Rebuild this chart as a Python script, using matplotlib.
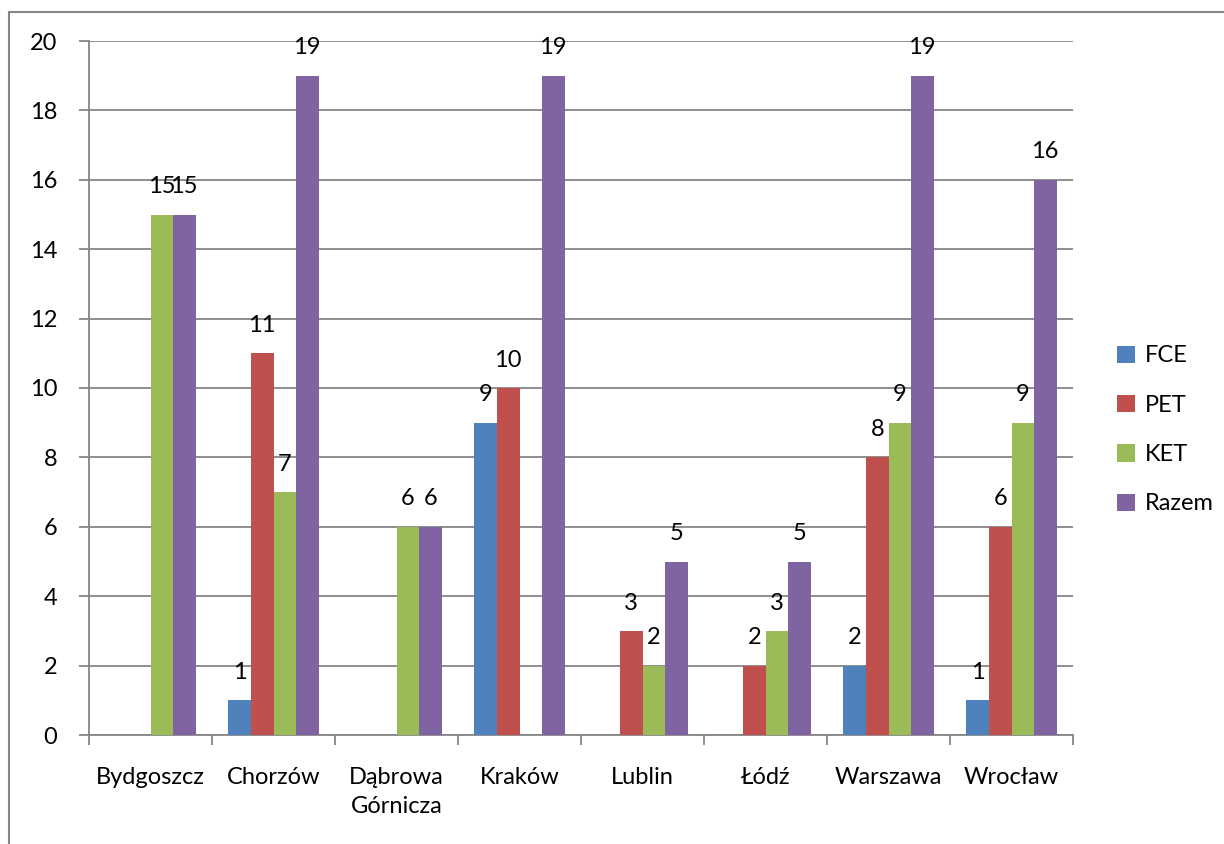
import matplotlib.pyplot as plt
from matplotlib.patches import Rectangle
import numpy as np

# data
cities = ['Bydgoszcz', 'Chorzów', 'Dąbrowa\nGórnicza', 'Kraków', 'Lublin', 'Łódź', 'Warszawa', 'Wrocław']
series = ['FCE', 'PET', 'KET', 'Razem']
FCE = [None, 1, None, 9, None, None, 2, 1]
PET = [None, 11, None, 10, 3, 2, 8, 6]
KET = [15, 7, 6, None, 2, 3, 9, 9]
Razem = [15, 19, 6, 19, 5, 5, 19, 16]
colors = ['#4F81BD', '#C0504D', '#9BBB59', '#8064A2']

plt.rcParams['font.family'] = ['Lato', 'DejaVu Sans']
fs = 17

fig = plt.figure(figsize=(12.24, 8.44), dpi=100)
ax = fig.add_axes([89/1224, 109/844, (1073-89)/1224, (735-41)/844])

# outer chart border
fig.patches.append(Rectangle((9/1224, -0.01), 1.02, (832+0.01*844)/844, transform=fig.transFigure,
                             fill=False, edgecolor='#868686', linewidth=1.5))

x = np.arange(len(cities))
w = 0.183
grid_col = '#868686'
for i, (name, vals) in enumerate(zip(series, [FCE, PET, KET, Razem])):
    pos = x + (i - 1.5) * w
    h = [np.nan if v is None else v for v in vals]
    ax.bar(pos, h, width=w, color=colors[i], label=name, zorder=3)
    for p, v in zip(pos, vals):
        if v is not None:
            ax.text(p, v + 0.5, str(v), ha='center', va='bottom', fontsize=fs, color='black')

ax.set_xlim(-0.5, len(cities) - 0.5)
ax.set_ylim(0, 20)
ax.set_yticks(np.arange(0, 21, 2))
ax.yaxis.grid(True, color=grid_col, linewidth=1.3, zorder=0)
ax.set_xticks(x)
ax.set_xticklabels(cities, fontsize=fs, linespacing=1.45)
ax.set_xticks(np.arange(-0.5, len(cities)), minor=True)
ax.tick_params(axis='x', which='major', length=0, pad=23)
ax.tick_params(axis='x', which='minor', length=7, width=1.3, color=grid_col)
ax.tick_params(axis='y', length=7, width=1.3, color=grid_col, labelsize=fs, pad=16)
for s in ['top', 'right']:
    ax.spines[s].set_visible(False)
for s in ['left', 'bottom']:
    ax.spines[s].set_color(grid_col)
    ax.spines[s].set_linewidth(1.3)

fig.legend(loc='center left', bbox_to_anchor=(1096/1224, 414/844), frameon=False, fontsize=fs,
           handlelength=0.75, handleheight=0.75, handletextpad=0.4, labelspacing=1.2)

fig.savefig('out.png', dpi=100)
